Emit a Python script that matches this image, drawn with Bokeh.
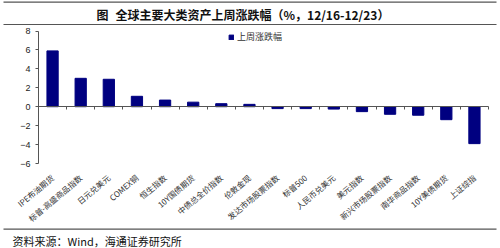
from math import pi
import numpy as np
from bokeh.plotting import figure
from bokeh.models import (Range1d, FixedTicker, Label, BoxAnnotation, LinearAxis,
                          Legend, LegendItem, ColumnDataSource)
from bokeh.embed import file_html
from bokeh.resources import INLINE

categories = ["IPE布油期货", "标普-高盛商品指数", "日元兑美元", "COMEX铜", "恒生指数",
              "10Y国债期货", "中债总全价指数", "伦敦金现", "发达市场股票指数", "标普500",
              "人民币兑美元", "美元指数", "新兴市场股票指数", "南华商品指数", "10Y美债期货", "上证综指"]
values = [5.9, 3.0, 2.9, 1.1, 0.7, 0.48, 0.32, 0.25, -0.2, -0.2, -0.25, -0.52,
          -0.8, -0.9, -1.37, -3.9]
series_name = "上周涨跌幅"
y_ticks = [-6, -4, -2, 0, 2, 4, 6, 8]
title_prefix = "图"
title_text = "全球主要大类资产上周涨跌幅（%，12/16-12/23）"
source_text = "资料来源：Wind，海通证券研究所"

W, H = 500, 248
# plot area placement on the canvas (pixels)
PL, PR, PT, PB = 38, 488, 30.5, 163
n = len(categories)
ymin, ymax = min(y_ticks), max(y_ticks)
ppu_y = (PB - PT) / (ymax - ymin)
ppu_x = (PR - PL) / n
y_range = Range1d(ymin - (H - PB) / ppu_y, ymax + PT / ppu_y)
x_range = Range1d(0.5 - PL / ppu_x, n + 0.5 + (W - PR) / ppu_x)

def sy(cy):
    return H - cy

p = figure(width=W, height=H, output_backend="svg", toolbar_location=None,
           x_range=x_range, y_range=y_range, min_border=0,
           x_axis_location=None, y_axis_location=None)
p.outline_line_color = None
p.grid.visible = False
p.background_fill_color = "white"
p.border_fill_color = "white"

xs = [int(i) for i in np.arange(1, n + 1)]
src = ColumnDataSource(dict(x=xs, top=values, name=categories))
r = p.vbar(x="x", top="top", bottom=0, width=0.4, fill_color="#000080",
           line_color="#000080", source=src)

# y axis drawn at the left edge of the plot area
ya = LinearAxis(fixed_location=0.5, bounds=(ymin, ymax), ticker=FixedTicker(ticks=y_ticks))
ya.axis_line_color = "#555555"
ya.major_tick_line_color = "#555555"
ya.major_tick_out = 3
ya.major_tick_in = 0
ya.minor_tick_line_color = None
ya.major_label_text_font = "Liberation Sans"
ya.major_label_text_font_size = "9px"
ya.major_label_text_color = "#222222"
ya.major_label_standoff = 5
p.add_layout(ya, "left")

# zero axis with ticks between categories
bounds = [float(b) for b in np.arange(n + 1) + 0.5]
za = LinearAxis(fixed_location=0, bounds=(0.5, n + 0.5), ticker=FixedTicker(ticks=bounds))
za.axis_line_color = "#555555"
za.major_tick_line_color = "#555555"
za.major_tick_out = 3
za.major_tick_in = 0
za.minor_tick_line_color = None
za.major_label_text_color = None
p.add_layout(za, "below")

# category label axis along the bottom of the plot area
xa = LinearAxis(fixed_location=ymin, ticker=FixedTicker(ticks=xs))
xa.major_label_overrides = {x: c for x, c in zip(xs, categories)}
xa.major_label_orientation = 0.70
xa.axis_line_color = None
xa.major_tick_line_color = None
xa.minor_tick_line_color = None
xa.major_tick_out = 0
xa.major_tick_in = 0
xa.major_label_text_font = "Noto Sans CJK SC"
xa.major_label_text_font_size = "8px"
xa.major_label_text_color = "#333333"
xa.major_label_standoff = 13
p.add_layout(xa, "below")

# legend
legend = Legend(items=[LegendItem(label=series_name, renderers=[r])],
                location=(228, sy(43)), glyph_width=6, glyph_height=6,
                label_text_font="Noto Sans CJK SC", label_text_font_size="9px",
                label_text_color="#333333", label_standoff=3, label_height=10,
                padding=0, margin=0, spacing=0, border_line_color=None,
                background_fill_alpha=0)
p.add_layout(legend)

# title, rules, source
p.add_layout(Label(x=96, y=sy(13.5), x_units="screen", y_units="screen",
                   text=title_prefix, text_align="left", text_baseline="middle",
                   text_font="Noto Sans CJK SC", text_font_size="12px",
                   text_font_style="bold", text_color="#111111"))
p.add_layout(Label(x=115, y=sy(13.5), x_units="screen", y_units="screen",
                   text=title_text, text_align="left", text_baseline="middle",
                   text_font="Noto Sans CJK SC", text_font_size="12px",
                   text_font_style="bold", text_color="#111111"))
for top_cy, bot_cy in ((1.0, 2.2), (23.4, 24.6), (228.0, 229.2)):
    p.add_layout(BoxAnnotation(left=3, right=496, top=sy(top_cy), bottom=sy(bot_cy),
                               left_units="screen", right_units="screen",
                               top_units="screen", bottom_units="screen",
                               fill_color="#555555", fill_alpha=1, line_color=None))
p.add_layout(Label(x=12, y=sy(240), x_units="screen", y_units="screen",
                   text=source_text, text_align="left", text_baseline="middle",
                   text_font="Noto Sans CJK SC", text_font_size="11px",
                   text_color="#111111"))

open("out.html", "w").write(file_html(p, INLINE))
